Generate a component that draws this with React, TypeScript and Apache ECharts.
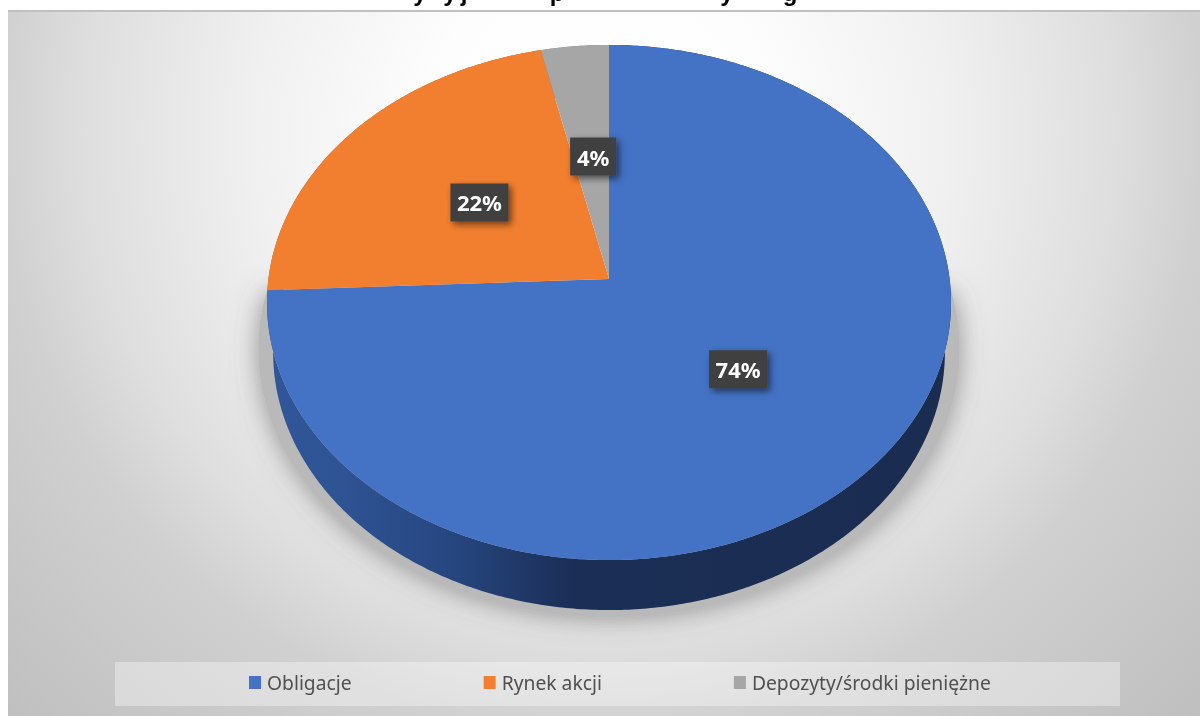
import React, { useEffect, useRef } from "react";
import * as echarts from "echarts";

const categories = ["Obligacje", "Rynek akcji", "Depozyty/środki pieniężne"];
const values = [74.3, 22.2, 3.5];
const sliceColors = ["#4472C4", "#F27F2F", "#A6A6A6"];
const titleTails = ["y", "y", "j", "p", "y", "g"];
const titleTailX = [420, 450, 464, 557, 727, 790];

const FONT = '"Noto Sans", sans-serif';
const CX = 609, APEX_Y = 279, A = 340.6, B = 255.4, K = 0.0913;
const TAU = Math.PI * 2;

function project(theta: number, r = 1, sx = 1, dy = 0, sy = 1): number[] {
  const u = Math.sin(theta) * r, v = Math.cos(theta) * r;
  const w = 1 + K * v;
  return [CX + (A * sx * u) / w, APEX_Y + dy - (B * sy * v) / w];
}

function arc(a0: number, a1: number, sx = 1, dy = 0, sy = 1): number[][] {
  const n = Math.max(2, Math.ceil(Math.abs(a1 - a0) / 0.01));
  const pts: number[][] = [];
  for (let i = 0; i <= n; i++) pts.push(project(a0 + ((a1 - a0) * i) / n, 1, sx, dy, sy));
  return pts;
}

const total = values.reduce((s, v) => s + v, 0);
const starts = values.map((_, i) => (values.slice(0, i).reduce((s, v) => s + v, 0) / total) * TAU);

const wallFill = (i: number) =>
  i === 0
    ? new echarts.graphic.LinearGradient(0, 0, 1, 0, [
        { offset: 0, color: "#30569A" },
        { offset: 0.1, color: "#2F5494" },
        { offset: 0.27, color: "#264680" },
        { offset: 0.45, color: "#1B2E55" },
        { offset: 1, color: "#1A2C50" },
      ])
    : i === 1
    ? "#B05A1E"
    : "#777777";

function renderSlice(i: number) {
  return () => {
    const a0 = starts[i];
    const a1 = a0 + (values[i] / total) * TAU;
    const mid = (a0 + a1) / 2;
    const [px, py] = project(mid, 0.5);
    const lx = px + 2;
    const ly = py - 1;
    const label = `${Math.round(values[i])}%`;
    const bw = 22 + 12 * label.length, bh = 38;
    const children: any[] = [];
    if (i === 0) {
      children.push({
        type: "polygon",
        z2: 0,
        shape: { points: arc(Math.PI * 0.46, Math.PI * 1.54, 1.025, 46, 1.04) },
        style: { fill: "#B9B9B9", shadowBlur: 26, shadowColor: "rgba(90,90,90,0.6)" },
        silent: true,
      });
    }
    children.push({
      type: "polygon",
      z2: 1,
      shape: { points: [...arc(a0, a1), ...arc(a1, a0, 0.982, 50, 1.0)] },
      style: { fill: wallFill(i) },
    });
    children.push({
      type: "polygon",
      z2: 2,
      shape: { points: [[CX, APEX_Y], ...arc(a0, a1)] },
      style: { fill: sliceColors[i] },
    });
    children.push({
      type: "rect",
      z2: 3,
      shape: { x: lx - bw / 2, y: ly - bh / 2, width: bw, height: bh },
      style: { fill: "#404040", shadowBlur: 7, shadowOffsetX: 3, shadowOffsetY: 3, shadowColor: "rgba(0,0,0,0.55)" },
    });
    children.push({
      type: "text",
      z2: 4,
      x: lx,
      y: ly,
      style: { text: label, fill: "#FFFFFF", font: `bold 22px ${FONT}`, align: "center", verticalAlign: "middle" },
    });
    return { type: "group", children };
  };
}

export default function App() {
  const ref = useRef<HTMLDivElement>(null);
  useEffect(() => {
    const chart = echarts.init(ref.current!, null, { renderer: "svg" });
    chart.setOption({
      animation: false,
      color: sliceColors,
      graphic: {
        elements: [
          {
            type: "rect",
            shape: { x: 8, y: 10, width: 1192, height: 706 },
            style: {
              fill: new echarts.graphic.RadialGradient(
                600, 130, 850,
                [
                  { offset: 0, color: "#FFFFFF" },
                  { offset: 0.2, color: "#FDFDFD" },
                  { offset: 0.41, color: "#F0F0F0" },
                  { offset: 0.5, color: "#E8E8E8" },
                  { offset: 0.61, color: "#DEDEDE" },
                  { offset: 0.71, color: "#D0D0D0" },
                  { offset: 1, color: "#BEBEBE" },
                ],
                true
              ),
            },
          },
          { type: "rect", shape: { x: 8, y: 10, width: 1192, height: 2 }, style: { fill: "#C0C0C0" } },
          {
            type: "rect",
            shape: { x: 115, y: 662, width: 1005, height: 44 },
            style: { fill: "rgba(255,255,255,0.35)" },
          },
          ...titleTails.map((t, i) => ({
            type: "text",
            x: titleTailX[i],
            y: 4,
            style: {
              text: t,
              fill: "#000000",
              font: `bold 24px "Liberation Sans", sans-serif`,
              align: "center",
              verticalAlign: "bottom",
            },
          })),
        ],
      },
      legend: {
        left: 249,
        top: 673,
        icon: "rect",
        itemWidth: 12,
        itemHeight: 13,
        itemGap: 132,
        padding: 0,
        data: categories,
        selectedMode: false,
        textStyle: { color: "#505050", fontFamily: FONT, fontSize: 19.3, padding: [0, 0, 0, 1] },
      },
      series: categories.map((name, i) => ({
        type: "custom",
        name,
        coordinateSystem: "none",
        silent: true,
        itemStyle: { color: sliceColors[i] },
        data: [{ name, value: values[i] }],
        renderItem: renderSlice(i),
      })),
    });
    return () => chart.dispose();
  }, []);
  return <div ref={ref} style={{ position: "fixed", left: 0, top: 0, width: 1200, height: 716 }} />;
}
